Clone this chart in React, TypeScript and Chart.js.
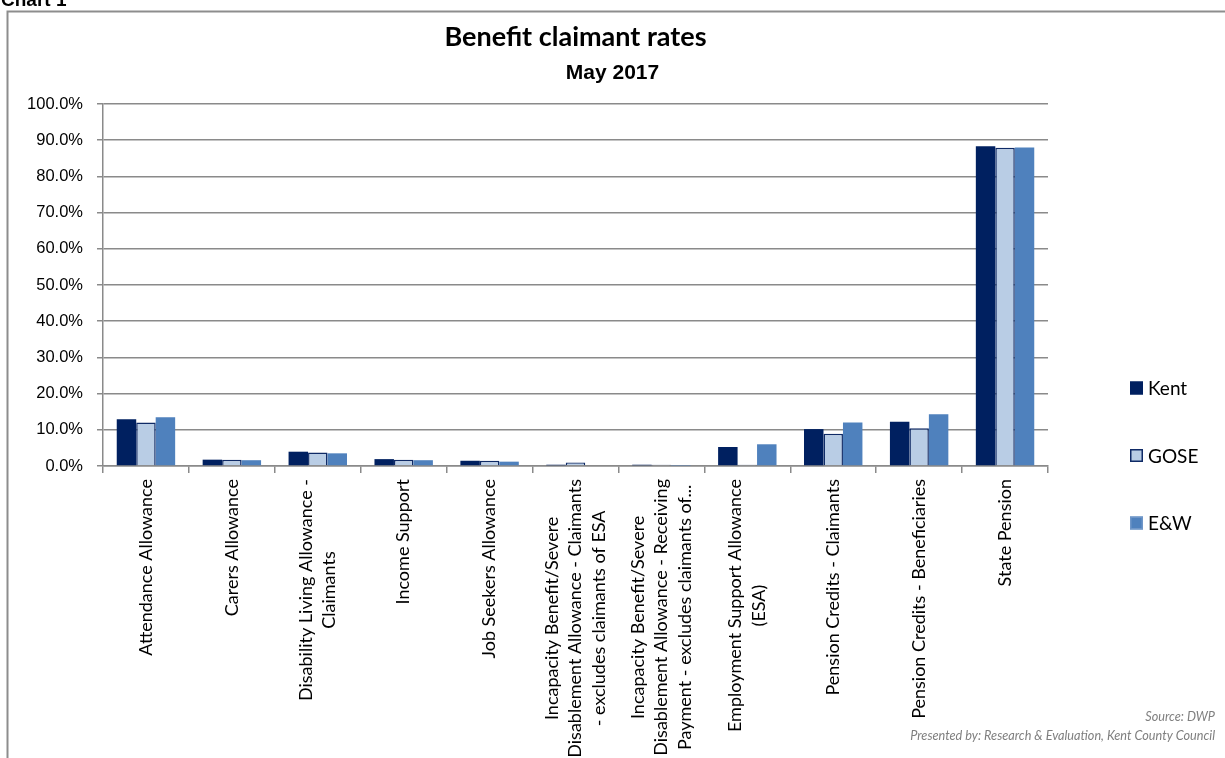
import React, { useEffect, useRef } from "react";
import { Chart, registerables } from "chart.js";

Chart.register(...registerables);

const categories: (string | string[])[] = [
  "Attendance Allowance",
  "Carers Allowance",
  ["Disability Living Allowance -", "Claimants"],
  "Income Support",
  "Job Seekers Allowance",
  ["Incapacity Benefit/Severe", "Disablement Allowance - Claimants", "- excludes claimants of ESA"],
  ["Incapacity Benefit/Severe", "Disablement Allowance - Receiving", "Payment - excludes claimants of..."],
  ["Employment Support Allowance", "(ESA)"],
  "Pension Credits - Claimants",
  "Pension Credits - Beneficiaries",
  "State Pension",
];

const kent = [12.9, 1.75, 3.95, 1.9, 1.45, 0.35, 0.35, 5.25, 10.2, 12.2, 88.3];
const gose = [12.0, 1.7, 3.7, 1.75, 1.45, 1.0, 0.35, 0.35, 8.9, 10.4, 87.9];
const ew = [13.5, 1.6, 3.5, 1.6, 1.2, 0.2, 0.1, 6.0, 12.0, 14.3, 88.0];

const seriesNames = ["Kent", "GOSE", "E&W"];
const yTicks = [0, 10, 20, 30, 40, 50, 60, 70, 80, 90, 100];

const chartTitle = "Benefit claimant rates";
const chartSubtitle = "May 2017";
const sourceText = "Source: DWP";
const presentedText = "Presented by: Research & Evaluation, Kent County Council";
const cornerText = "Chart 1";

const KENT_FILL = "#002060";
const GOSE_FILL = "#B9CDE5";
const GOSE_EDGE = "#0F2A66";
const EW_FILL = "#4F81BD";
const GRID = "#8a8a8a";

const decorPlugin = {
  id: "decor",
  beforeDraw(chart: any) {
    const ctx = chart.ctx;
    ctx.save();
    ctx.strokeStyle = "#8d8d8d";
    ctx.lineWidth = 2;
    ctx.beginPath();
    ctx.moveTo(1240, 11.5);
    ctx.lineTo(7.5, 11.5);
    ctx.lineTo(7.5, 770);
    ctx.stroke();
    ctx.fillStyle = "#000";
    ctx.font = "bold 19px 'Liberation Sans'";
    ctx.textAlign = "left";
    ctx.textBaseline = "alphabetic";
    ctx.fillText(cornerText, 1, 6);
    ctx.restore();
  },
  afterDraw(chart: any) {
    const ctx = chart.ctx;
    const xs = chart.scales.x;
    const area = chart.chartArea;
    const labels = chart.data.labels as (string | string[])[];
    ctx.save();
    // category labels
    ctx.fillStyle = "#000";
    ctx.font = "18px Lato";
    ctx.textAlign = "center";
    ctx.textBaseline = "middle";
    const lineH = 23.5;
    labels.forEach((lab, i) => {
      const lines = Array.isArray(lab) ? lab : [lab];
      const w = Math.max(...lines.map((l) => ctx.measureText(l).width));
      const x = xs.getPixelForValue(i);
      ctx.save();
      ctx.translate(x, area.bottom + 13);
      ctx.rotate(-Math.PI / 2);
      lines.forEach((l, j) => {
        ctx.fillText(l, -w / 2, (j - (lines.length - 1) / 2) * lineH);
      });
      ctx.restore();
    });
    // legend
    const fills = [KENT_FILL, GOSE_FILL, EW_FILL];
    const edges = [KENT_FILL, GOSE_EDGE, "#6f96c8"];
    const lx = area.right + 82;
    ctx.font = "19px Lato";
    ctx.textAlign = "left";
    ctx.textBaseline = "middle";
    seriesNames.forEach((name, i) => {
      const cy = area.top + 284 + i * 67.5;
      ctx.fillStyle = fills[i];
      ctx.fillRect(lx, cy - 6.5, 13, 13);
      ctx.strokeStyle = edges[i];
      ctx.lineWidth = 1.5;
      ctx.strokeRect(lx + 0.75, cy - 5.75, 11.5, 11.5);
      ctx.fillStyle = "#000";
      ctx.fillText(name, lx + 18, cy + 1);
    });
    // footer
    ctx.fillStyle = "#7f7f7f";
    ctx.font = "italic 12.7px Lato";
    ctx.textAlign = "right";
    ctx.fillText(sourceText, 1215, 717);
    ctx.fillText(presentedText, 1215, 736);
    ctx.restore();
  },
};

export default function App() {
  const ref = useRef<HTMLCanvasElement | null>(null);
  useEffect(() => {
    if (!ref.current) return;
    const chart = new Chart(ref.current, {
      type: "bar",
      data: {
        labels: categories,
        datasets: [
          { label: seriesNames[0], data: kent, backgroundColor: KENT_FILL, borderColor: KENT_FILL, borderWidth: 0 },
          { label: seriesNames[1], data: gose, backgroundColor: GOSE_FILL, borderColor: GOSE_EDGE, borderWidth: 1.5, borderSkipped: "bottom" },
          { label: seriesNames[2], data: ew, backgroundColor: EW_FILL, borderColor: EW_FILL, borderWidth: 0 },
        ],
      },
      options: {
        responsive: false,
        animation: false,
        datasets: { bar: { barPercentage: 1, categoryPercentage: 0.68 } },
        layout: { padding: { left: 0, right: 0, top: 0, bottom: 0 } },
        plugins: {
          legend: { display: false },
          tooltip: { enabled: false },
          title: {
            display: true,
            text: chartTitle,
            fullSize: false,
            color: "#000",
            font: { family: "Lato", size: 27, weight: "bold", lineHeight: 1.2 },
            padding: { top: 21, bottom: 0 },
          },
          subtitle: {
            display: true,
            text: chartSubtitle,
            fullSize: true,
            color: "#000",
            font: { family: "'Liberation Sans'", size: 21, weight: "bold", lineHeight: 1.2 },
            padding: { top: 7, bottom: 18.4 },
          },
        },
        scales: {
          x: {
            type: "category",
            grid: { display: true, drawOnChartArea: false, drawTicks: true, tickLength: 7, color: GRID, lineWidth: 1.5, offset: true },
            border: { display: true, color: GRID, width: 1.5 },
            ticks: { display: false },
            afterFit: (s: any) => { s.height = 292; },
          },
          y: {
            type: "linear",
            min: 0,
            max: 100,
            afterBuildTicks: (s: any) => { s.ticks = yTicks.map((v) => ({ value: v })); },
            ticks: {
              color: "#000",
              padding: 14,
              font: { family: "'Liberation Sans'", size: 16.5 },
              callback: (v: any) => `${Number(v).toFixed(1)}%`,
            },
            grid: { color: GRID, lineWidth: 1.5, tickLength: 6, drawTicks: true },
            border: { display: true, color: GRID, width: 1.5 },
            afterFit: (s: any) => { s.width = 103; },
          },
          spacer: {
            type: "linear",
            position: "right",
            display: true,
            grid: { display: false, drawTicks: false },
            ticks: { display: false },
            border: { display: false },
            afterFit: (s: any) => { s.width = 177; },
          },
        },
      },
      plugins: [decorPlugin],
    } as any);
    return () => chart.destroy();
  }, []);
  return (
    <canvas
      ref={ref}
      width={1225}
      height={758}
      style={{ position: "fixed", left: 0, top: 0, display: "block" }}
    />
  );
}
